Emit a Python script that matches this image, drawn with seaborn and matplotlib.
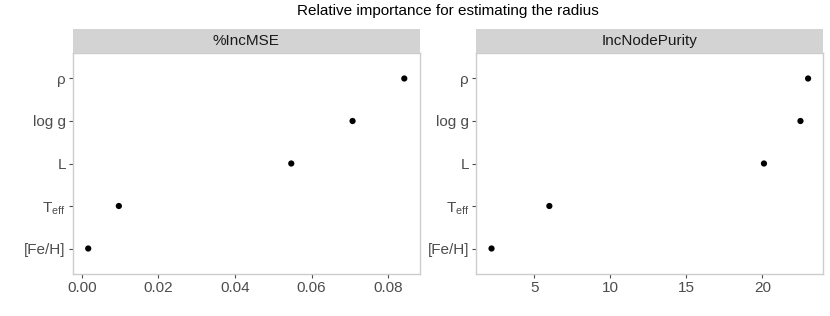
import matplotlib
matplotlib.use("Agg")
import matplotlib.pyplot as plt
import seaborn as sns
import pandas as pd

features = ["[Fe/H]", r"T$_{\mathregular{eff}}$", "L", "log g", "ρ"]
inc_mse = [0.0017, 0.0097, 0.0547, 0.0707, 0.0842]
inc_node_purity = [2.2, 6.0, 20.1, 22.5, 23.0]
panel_titles = ["%IncMSE", "IncNodePurity"]
title = "Relative importance for estimating the radius"

sns.set_theme(style="white")
plt.rcParams["font.family"] = ["Liberation Sans", "DejaVu Sans"]
plt.rcParams["mathtext.fontset"] = "custom"
plt.rcParams["mathtext.rm"] = "Liberation Sans"

fig = plt.figure(figsize=(8.3, 3.16), dpi=100)
W, H = 830, 316
panels = [(72.7, 420.0), (476.0, 823.3)]
ptop, pbot = 53, 274
strip_top = 29
xlims = [(-0.00235, 0.0883), (1.18, 24.0)]
xticks = [[0.00, 0.02, 0.04, 0.06, 0.08], [5, 10, 15, 20]]
xticklabels = [["0.00", "0.02", "0.04", "0.06", "0.08"], ["5", "10", "15", "20"]]
values = [inc_mse, inc_node_purity]

for i, (x0, x1) in enumerate(panels):
    ax = fig.add_axes([x0 / W, 1 - pbot / H, (x1 - x0) / W, (pbot - ptop) / H])
    df = pd.DataFrame({"feature": features, "value": values[i]})
    sns.scatterplot(data=df, x="value", y="feature", ax=ax, color="black",
                    s=20, edgecolor="none", linewidth=0)
    ax.set_xlim(*xlims[i])
    ax.set_ylim(-0.6, len(features) - 0.4)
    ax.set_xticks(xticks[i])
    ax.set_xticklabels(xticklabels[i])
    ax.set_xlabel("")
    ax.set_ylabel("")
    for s in ax.spines.values():
        s.set_color("#cccccc")
        s.set_linewidth(1.0)
    ax.tick_params(axis="both", which="both", length=3, width=0.8, color="#4d4d4d",
                   labelsize=11, labelcolor="#4d4d4d", pad=2, left=True, bottom=True)
    ax.grid(False)
    # strip
    sax = fig.add_axes([x0 / W, 1 - ptop / H, (x1 - x0) / W, (ptop - strip_top) / H])
    sax.set_facecolor("#d3d3d3")
    sax.set_xticks([])
    sax.set_yticks([])
    for s in sax.spines.values():
        s.set_visible(False)
    sax.text(0.5, 0.5, panel_titles[i], ha="center", va="center",
             fontsize=11, color="#1a1a1a", transform=sax.transAxes)

fig.text(448 / W, 1 - 11 / H, title, ha="center", va="center", fontsize=11, color="black")
fig.savefig("out.png", dpi=100)
